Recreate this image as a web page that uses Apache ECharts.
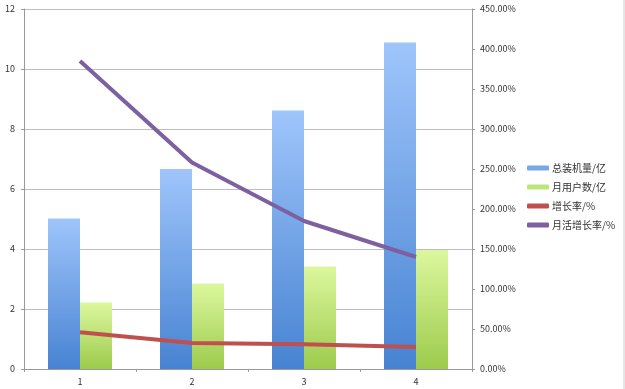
<!DOCTYPE html>
<html>
<head>
<meta charset="utf-8">
<script src="https://cdn.jsdelivr.net/npm/echarts@6/dist/echarts.min.js"></script>
<style>
html,body{margin:0;padding:0;background:#fff;}
#c{width:625px;height:389px;}
</style>
</head>
<body>
<div id="c"></div>
<script>
var categories = ['1', '2', '3', '4'];
var totalInstalled = [5.02, 6.67, 8.62, 10.88];
var monthlyUsers = [2.22, 2.85, 3.42, 3.97];
var growthRate = [46, 32.5, 31, 27.5];
var mauGrowthRate = [385, 258, 185, 140];
var leftTicks = [0, 2, 4, 6, 8, 10, 12];
var rightTicks = [0, 50, 100, 150, 200, 250, 300, 350, 400, 450];

var chart = echarts.init(document.getElementById('c'));
var font = '"Noto Sans CJK SC", "DejaVu Sans", sans-serif';
function grad(top, bottom) {
  return new echarts.graphic.LinearGradient(0, 0, 0, 1, [
    {offset: 0, color: top}, {offset: 1, color: bottom}
  ]);
}
chart.setOption({
  animation: false,
  backgroundColor: '#fff',
  textStyle: {fontFamily: font},
  grid: {left: 24, right: 153, top: 9, bottom: 20, containLabel: false},
  graphic: [{
    type: 'line', shape: {x1: 624, y1: 0, x2: 624, y2: 389},
    style: {stroke: '#cccccc', lineWidth: 1}
  }],
  legend: {
    orient: 'vertical', left: 522, top: 158,
    itemWidth: 22, itemHeight: 5, itemGap: 9,
    textStyle: {fontSize: 10, color: '#333', fontFamily: font, padding: [0, 0, 0, -2]},
    data: [
      {name: '总装机量/亿', icon: 'roundRect', itemStyle: {color: '#79a6e6'}},
      {name: '月用户数/亿', icon: 'roundRect', itemStyle: {color: '#bce57a'}},
      {name: '增长率/%', icon: 'roundRect', itemStyle: {color: '#c0504d'}},
      {name: '月活增长率/%', icon: 'roundRect', itemStyle: {color: '#7d60a0'}}
    ]
  },
  xAxis: {
    type: 'category', data: categories,
    axisLine: {lineStyle: {color: '#999', width: 1}},
    axisTick: {show: true, alignWithLabel: false, length: 3, lineStyle: {color: '#999'}},
    axisLabel: {fontSize: 9, color: '#333', margin: 8}
  },
  yAxis: [{
    type: 'value', min: 0, max: 12, interval: 2,
    axisLine: {show: true, lineStyle: {color: '#999'}},
    axisTick: {show: true, length: 3, lineStyle: {color: '#999'}},
    axisLabel: {fontSize: 9, color: '#333', margin: 9},
    splitLine: {show: true, lineStyle: {color: '#bdbdbd', width: 1}}
  }, {
    type: 'value', min: 0, max: 450, interval: 50, position: 'right',
    axisLine: {show: true, lineStyle: {color: '#999'}},
    axisTick: {show: true, length: 3, lineStyle: {color: '#999'}},
    axisLabel: {fontSize: 9, color: '#333', margin: 8,
      formatter: function (v) { return v.toFixed(2) + '%'; }},
    splitLine: {show: false}
  }],
  series: [{
    name: '总装机量/亿', type: 'bar', data: totalInstalled,
    barWidth: 32, barGap: '0%',
    itemStyle: {color: grad('#9fc5fb', '#4783d2')}
  }, {
    name: '月用户数/亿', type: 'bar', data: monthlyUsers,
    barWidth: 32, barGap: '0%',
    itemStyle: {color: grad('#dcf79e', '#9dcb4c')}
  }, {
    name: '增长率/%', type: 'line', yAxisIndex: 1, data: growthRate,
    symbol: 'none', lineStyle: {color: '#c0504d', width: 4},
    itemStyle: {color: '#c0504d'}
  }, {
    name: '月活增长率/%', type: 'line', yAxisIndex: 1, data: mauGrowthRate,
    symbol: 'none', lineStyle: {color: '#7d60a0', width: 4},
    itemStyle: {color: '#7d60a0'}
  }]
});
</script>
</body>
</html>
